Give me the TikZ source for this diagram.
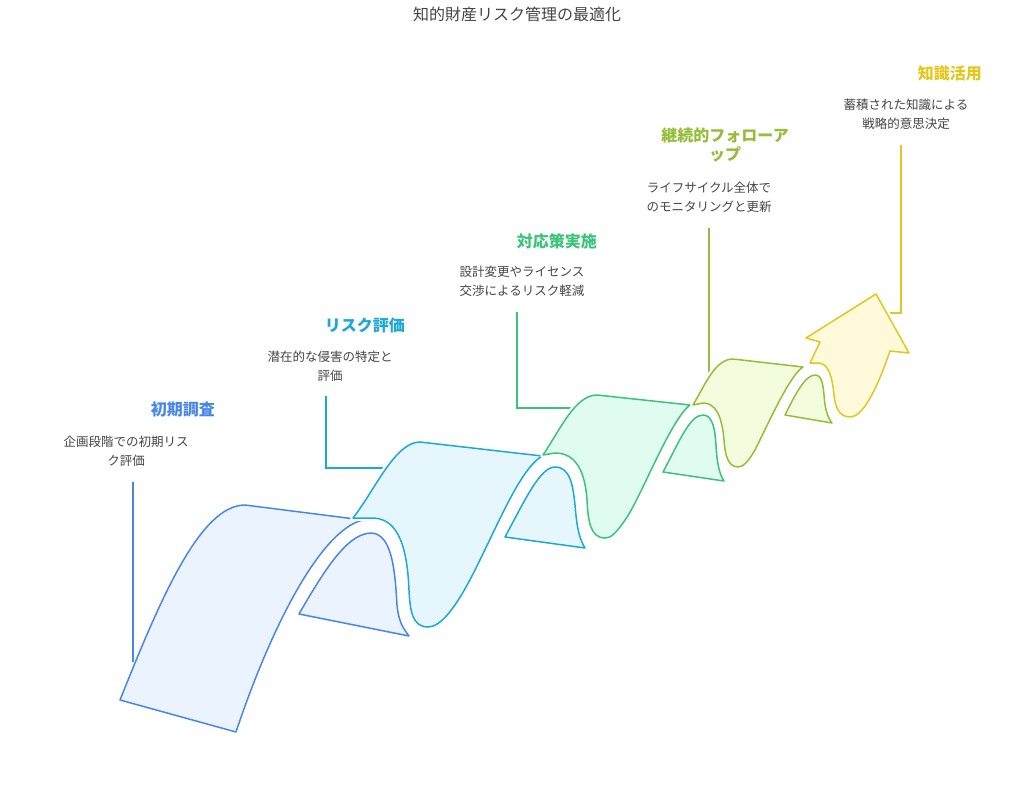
\documentclass[tikz,border=0pt]{standalone}
\usepackage{fontspec}
\setmainfont{Noto Sans CJK JP}
\definecolor{cB}{HTML}{4A86E8}\definecolor{fcB}{HTML}{EAF3FE}
\definecolor{cC}{HTML}{1DA8D8}\definecolor{fcC}{HTML}{E6F6FD}
\definecolor{cG}{HTML}{3CC37A}\definecolor{fcG}{HTML}{E0FBEF}
\definecolor{cL}{HTML}{94BE38}\definecolor{fcL}{HTML}{F3FCDD}
\definecolor{cY}{HTML}{E2C71E}\definecolor{fcY}{HTML}{FEFADA}
\definecolor{tx}{HTML}{444444}
\begin{document}
\begin{tikzpicture}[x=1pt,y=-1pt,
  rib/.style={draw=#1,fill=f#1,line width=1.5pt,line join=round},
  gap/.style={draw=white,line width=6pt,line join=round},
  con/.style={draw=#1,line width=1.5pt},
  head/.style={font=\fontsize{16}{19}\selectfont\bfseries,text=#1,align=right,inner sep=0pt},
  desc/.style={font=\fontsize{12.5}{19}\selectfont,text=tx,align=center,inner sep=0pt}]
\useasboundingbox (0,0) rectangle (1034,806);
\node[font=\fontsize{16}{19}\selectfont,text=tx] (title) at (517,14) {知的財産リスク管理の最適化};
% connectors (behind)
\coordinate (b1) at (133,482); \coordinate (b2) at (133,662);
\draw[con=cB] (b1) -- (b2);
\coordinate (c1) at (326,396); \coordinate (c2) at (385,468);
\draw[con=cC] (c1) |- (c2);
\coordinate (g1) at (517,312); \coordinate (g2) at (573,408);
\draw[con=cG] (g1) |- (g2);
\coordinate (l1) at (709,228); \coordinate (l2) at (709,380);
\draw[con=cL] (l1) -- (l2);
\coordinate (y1) at (901,145); \coordinate (y2) at (886,313);
\draw[con=cY] (y1) |- (y2);
% blue
\path[rib=cB] (120,700) -- (236,732) .. controls (270,630) and (320,530) .. (363,520) -- (245,505) .. controls (200,505) and (160,600) .. (120,700) -- cycle;
\path[rib=cB] (299,614) .. controls (330,560) and (350,533) .. (372,533) .. controls (392,535) and (395,570) .. (397,605) .. controls (399,625) and (405,630) .. (409,636) -- cycle;
% cyan
\def\cyan{(353,518) .. controls (375,490) and (395,442) .. (420,442) -- (542,456) .. controls (520,470) and (500,520) .. (475,570) .. controls (455,610) and (440,627) .. (428,627) .. controls (412,627) and (410,610) .. (409,590) .. controls (407,540) and (395,518) .. (372,518) -- cycle}
\path[gap] \cyan; \path[rib=cC] \cyan;
\path[rib=cC] (505,537) .. controls (525,500) and (540,467) .. (555,467) .. controls (570,467) and (573,485) .. (575,505) .. controls (577,530) and (580,540) .. (585,548) -- cycle;
% green
\def\green{(543,455) .. controls (560,430) and (575,395) .. (597,395) -- (690,405) .. controls (670,420) and (640,500) .. (625,520) .. controls (615,535) and (610,538) .. (605,538) .. controls (590,538) and (588,520) .. (587,500) .. controls (585,470) and (575,453) .. (555,453) -- cycle}
\path[gap] \green; \path[rib=cG] \green;
\path[rib=cG] (663,472) .. controls (680,440) and (690,415) .. (703,415) .. controls (713,415) and (715,430) .. (716,445) .. controls (717,465) and (720,475) .. (724,481) -- cycle;
% lime
\def\lime{(693,405) .. controls (705,385) and (715,359) .. (733,359) -- (803,367) .. controls (790,375) and (770,420) .. (755,450) .. controls (748,462) and (743,467) .. (738,467) .. controls (728,467) and (725,455) .. (724,440) .. controls (722,415) and (715,403) .. (703,403) -- cycle}
\path[gap] \lime; \path[rib=cL] \lime;
\path[rib=cL] (785,415) .. controls (795,395) and (805,375) .. (815,375) .. controls (822,375) and (823,385) .. (824,395) .. controls (825,410) and (828,418) .. (832,423) -- cycle;
% yellow arrow
\def\yel{(810,363) -- (820,342) -- (806,338) -- (876,294) -- (909,353) -- (890,351) .. controls (880,380) and (865,417) .. (850,417) .. controls (838,417) and (835,405) .. (834,395) .. controls (832,375) and (828,363) .. (818,363) -- cycle}
\path[gap] \yel; \path[rib=cY] \yel;
% texts
\node[head=cB,anchor=east] (h1) at (215,409) {初期調査};
\node[desc] (d1) at (126,451) {企画段階での初期リス\\ク評価};
\node[head=cC,anchor=east] (h2) at (405,325) {リスク評価};
\node[desc] (d2) at (330,366) {潜在的な侵害の特定と\\評価};
\node[head=cG,anchor=east] (h3) at (597,241) {対応策実施};
\node[desc] (d3) at (522,281) {設計変更やライセンス\\交渉によるリスク軽減};
\node[head=cL,anchor=east,align=center] (h4) at (789,145) {継続的フォローア\\ップ};
\node[desc] (d4) at (709,197) {ライフサイクル全体で\\のモニタリングと更新};
\node[head=cY,anchor=east] (h5) at (982,73) {知識活用};
\node[desc] (d5) at (906,114) {蓄積された知識による\\戦略的意思決定};
\end{tikzpicture}
\end{document}
